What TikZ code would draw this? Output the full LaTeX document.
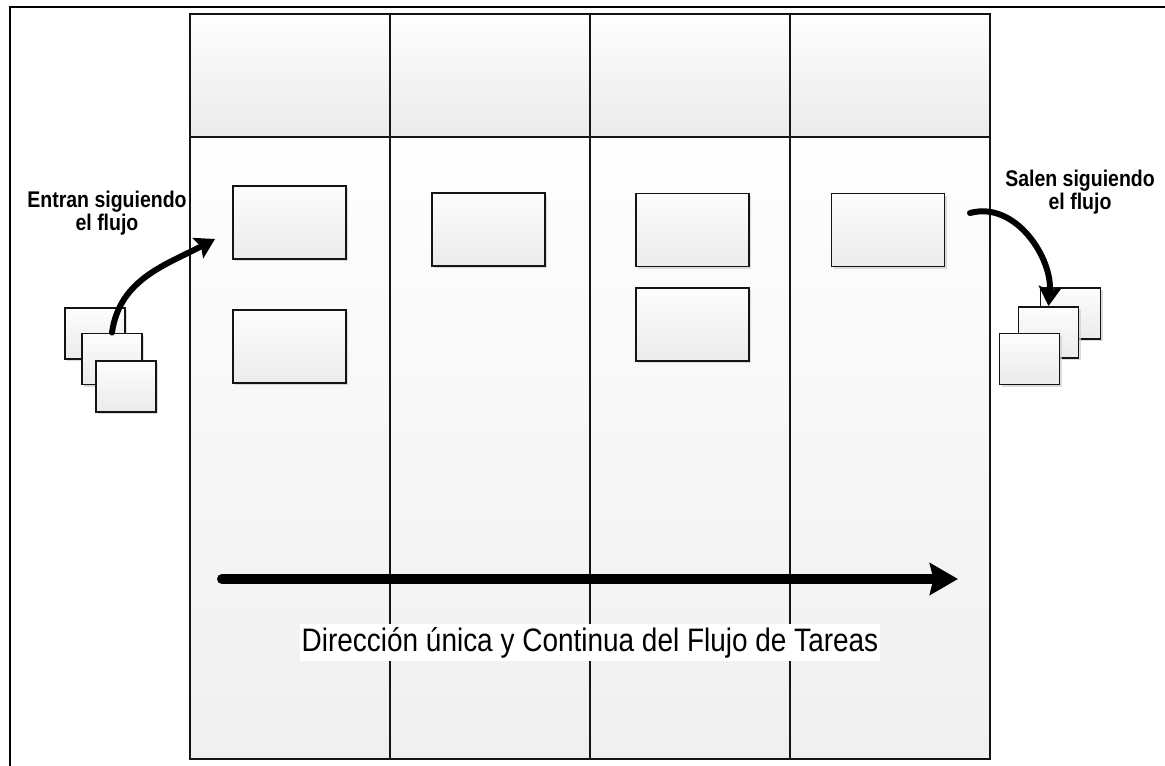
\documentclass[tikz,border=0pt]{standalone}
\usepackage{fontspec}
\newfontfamily\narrowsans{Liberation Sans}[FakeStretch=0.86]
\usetikzlibrary{arrows.meta, positioning, shadows}
\definecolor{boardline}{RGB}{20,20,20}
\definecolor{cardtop}{RGB}{253,253,253}
\definecolor{cardbot}{RGB}{235,235,235}
\definecolor{coltop}{RGB}{254,254,254}
\definecolor{colbot}{RGB}{240,240,240}
\definecolor{cardshadow}{RGB}{205,205,205}
\tikzset{
  headcell/.style={draw=boardline, line width=1.3pt,
    top color=coltop, bottom color=cardbot},
  colbody/.style={draw=boardline, line width=1.1pt,
    top color=coltop, bottom color=colbot},
  taskcard/.style={rectangle, draw=boardline, line width=1.1pt,
    top color=cardtop, bottom color=cardbot, inner sep=0pt,
    minimum width=2.26cm, minimum height=1.46cm,
    drop shadow={shadow xshift=1.2pt, shadow yshift=-1.2pt,
      fill=cardshadow, opacity=0.7}},
  stackcard/.style={taskcard, minimum width=1.2cm, minimum height=1.02cm},
  flowlabel/.style={font=\narrowsans\bfseries\fontsize{12.9}{13.4}\selectfont,
    align=center, inner sep=0pt},
  caption/.style={font=\narrowsans\fontsize{18.5}{22}\selectfont,
    fill=white, inner xsep=1pt, inner ysep=2pt},
  flowarrow/.style={-{Stealth[length=11pt, width=13pt, inset=2pt]},
    line width=3.4pt, line cap=round},
  bigarrow/.style={-{Stealth[length=16pt, width=18pt, inset=2pt]},
    line width=5.7pt, line cap=round}
}

\begin{document}
\begin{tikzpicture}
  \useasboundingbox (0,0) rectangle (23.3,-15.3);
  % outer frame
  \draw[line width=1.7pt] (0.2,-15.4) -- (0.2,-0.14) -- (23.4,-0.14);

  % board: 4 columns with header cells
  \foreach \i in {0,...,3} {
    \pgfmathsetmacro{\x}{3.8+4*\i}
    \draw[colbody] (\x,-2.74) rectangle (\x+4,-15.18);
    \draw[headcell] (\x,-0.28) rectangle (\x+4,-2.74);
  }

  % task cards on the board
  \node[taskcard] (todoA) at (5.79,-4.45) {};
  \node[taskcard, below=0.98cm of todoA] (todoB) {};
  \node[taskcard] (doingA) at (9.77,-4.59) {};
  \node[taskcard] (testA) at (13.85,-4.6) {};
  \node[taskcard, below=0.39cm of testA] (testB) {};
  \node[taskcard] (doneA) at (17.76,-4.6) {};

  % incoming stack
  \node[stackcard] (inA) at (1.9,-6.67) {};
  \node[stackcard] (inB) at (2.24,-7.18) {};
  \node[stackcard] (inC) at (2.52,-7.73) {};

  % outgoing stack
  \node[stackcard] (outA) at (21.41,-6.27) {};
  \node[stackcard] (outB) at (20.97,-6.65) {};
  \node[stackcard] (outC) at (20.59,-7.18) {};

  % labels
  \node[flowlabel] (inlabel) at (2.14,-4.26) {Entran siguiendo\\el flujo};
  \node[flowlabel] (outlabel) at (21.6,-3.84) {Salen siguiendo\\el flujo};

  % curved arrows in and out
  \coordinate (intip) at (4.3,-4.78);
  \draw[flowarrow] (inB.north) to[out=82, in=208] (intip);
  \coordinate (outstart) at (19.4,-4.26);
  \draw[flowarrow] (outstart) to[out=15, in=85] (outB.north);

  % main flow direction
  \coordinate (flowstart) at (4.44,-11.58);
  \coordinate (flowend) at (19.16,-11.58);
  \draw[bigarrow] (flowstart) -- (flowend);
  \node[caption] (flowcaption) at (11.8,-12.85)
    {Dirección única y Continua del Flujo de Tareas};
\end{tikzpicture}
\end{document}
